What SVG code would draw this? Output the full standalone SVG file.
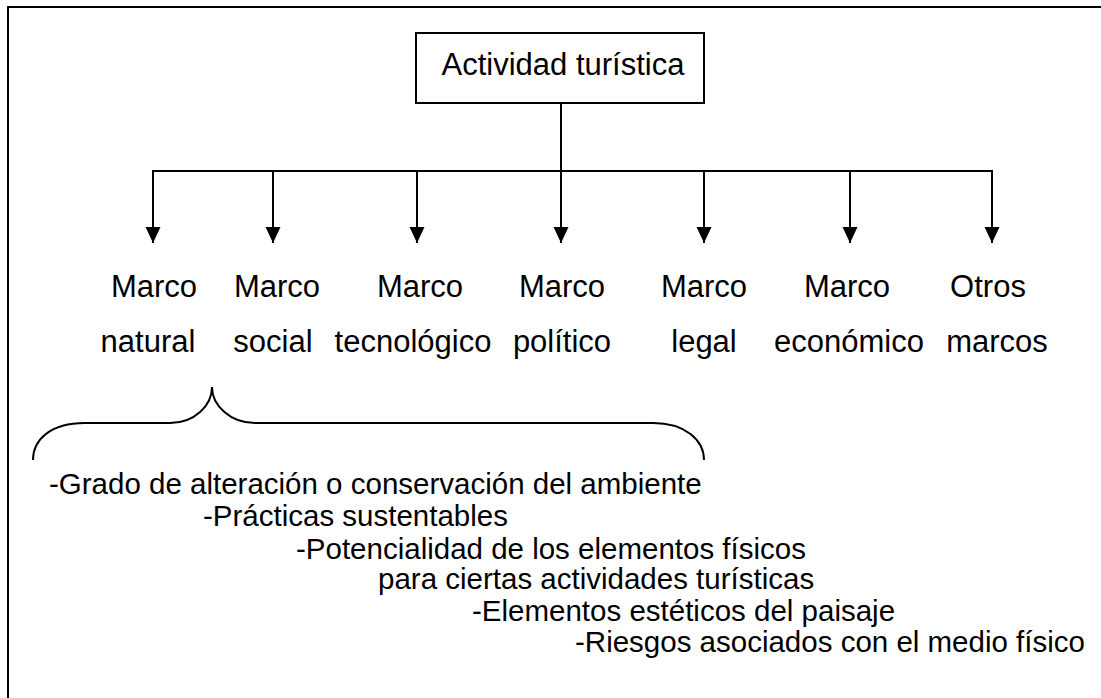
<svg xmlns="http://www.w3.org/2000/svg" width="1101" height="698" viewBox="0 0 1101 698">
<defs>
<style>
.ln{stroke:#000;stroke-width:2;fill:none}
.t{font-family:"Liberation Sans",Arial,sans-serif;font-size:31px;fill:#000}
.b{font-family:"Liberation Sans",Arial,sans-serif;font-size:29.5px;fill:#000}
</style>
<marker id="ah" markerUnits="userSpaceOnUse" markerWidth="16" markerHeight="16" refX="16" refY="7.5" orient="auto">
<path d="M0,0 L16,7.5 L0,15 Z" fill="#000"/>
</marker>
</defs>
<rect x="0" y="0" width="1101" height="698" fill="#fff"/>
<g id="frame">
<line class="ln" x1="7" y1="7" x2="1101" y2="7"/>
<line class="ln" x1="8" y1="6" x2="8" y2="698"/>
</g>
<g id="root">
<rect class="ln" x="416" y="33" width="288" height="70"/>
<text class="t" x="563" y="75" text-anchor="middle">Actividad turística</text>
</g>
<g id="connectors">
<line class="ln" x1="561" y1="103" x2="561" y2="171"/>
<line class="ln" x1="152" y1="171" x2="993" y2="171"/>
<line class="ln" x1="153" y1="171" x2="153" y2="243" marker-end="url(#ah)"/>
<line class="ln" x1="273" y1="171" x2="273" y2="243" marker-end="url(#ah)"/>
<line class="ln" x1="417" y1="171" x2="417" y2="243" marker-end="url(#ah)"/>
<line class="ln" x1="561" y1="171" x2="561" y2="243" marker-end="url(#ah)"/>
<line class="ln" x1="704" y1="171" x2="704" y2="243" marker-end="url(#ah)"/>
<line class="ln" x1="850" y1="171" x2="850" y2="243" marker-end="url(#ah)"/>
<line class="ln" x1="992" y1="171" x2="992" y2="243" marker-end="url(#ah)"/>
</g>
<g id="n1"><text class="t" x="154" y="297" text-anchor="middle">Marco</text><text class="t" x="148" y="352" text-anchor="middle">natural</text></g>
<g id="n2"><text class="t" x="277" y="297" text-anchor="middle">Marco</text><text class="t" x="273" y="352" text-anchor="middle">social</text></g>
<g id="n3"><text class="t" x="420" y="297" text-anchor="middle">Marco</text><text class="t" x="413" y="352" text-anchor="middle">tecnológico</text></g>
<g id="n4"><text class="t" x="562" y="297" text-anchor="middle">Marco</text><text class="t" x="562" y="352" text-anchor="middle">político</text></g>
<g id="n5"><text class="t" x="704" y="297" text-anchor="middle">Marco</text><text class="t" x="704" y="352" text-anchor="middle">legal</text></g>
<g id="n6"><text class="t" x="847" y="297" text-anchor="middle">Marco</text><text class="t" x="849" y="352" text-anchor="middle">económico</text></g>
<g id="n7"><text class="t" x="988" y="297" text-anchor="middle">Otros</text><text class="t" x="997" y="352" text-anchor="middle">marcos</text></g>
<g id="brace">
<path class="ln" d="M33,460 C33,440 50,423 85,423 L170,423 C195,423 212,405 212,387 C212,405 230,423 255,423 L653,423 C685,423 704,440 704,460"/>
</g>
<g id="list">
<text class="b" x="49" y="494">-Grado de alteración o conservación del ambiente</text>
<text class="b" x="203" y="526">-Prácticas sustentables</text>
<text class="b" x="296" y="559">-Potencialidad de los elementos físicos</text>
<text class="b" x="378" y="589">para ciertas actividades turísticas</text>
<text class="b" x="472" y="621">-Elementos estéticos del paisaje</text>
<text class="b" x="575" y="652">-Riesgos asociados con el medio físico</text>
</g>
</svg>
